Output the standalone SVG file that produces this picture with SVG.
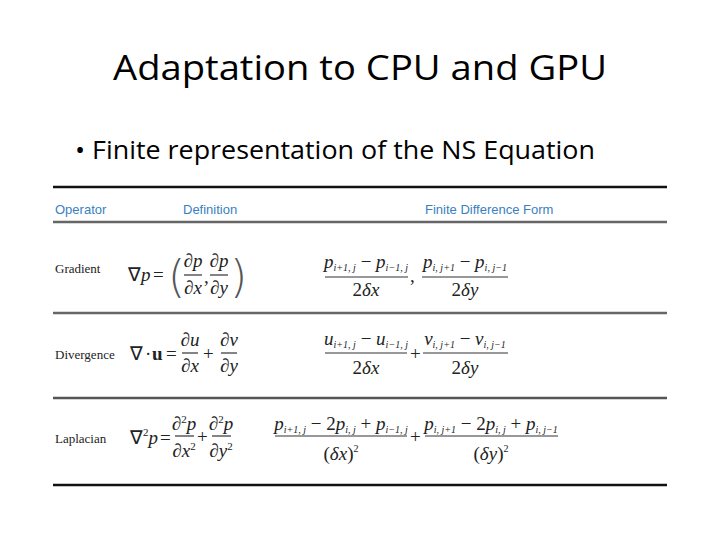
<svg xmlns="http://www.w3.org/2000/svg" width="720" height="540" viewBox="0 0 720 540">
<style>
.t{font-family:"Open Sans","Liberation Sans",sans-serif;fill:#000}
.h{font-family:"Liberation Sans",sans-serif;font-size:13px;fill:#3a80c0}
.lb{font-family:"Liberation Serif",serif;font-size:13px;fill:#222}
.m{font-family:"Liberation Serif",serif;font-size:19px;font-style:italic;fill:#222}
.n{font-family:"Liberation Serif",serif;font-size:19px;fill:#222}
.p{font-family:"DejaVu Sans",sans-serif;font-size:44px;font-weight:100;fill:#555}
.s{font-size:10px;font-style:italic}
.bar{stroke:#333;stroke-width:1.2}
</style>
<rect width="720" height="540" fill="#fff"/>
<g id="title"><text class="t" x="360" y="80" font-size="34" text-anchor="middle" textLength="494" lengthAdjust="spacingAndGlyphs">Adaptation to CPU and GPU</text></g>
<g id="bullet"><text class="t" x="75" y="159" font-size="25" textLength="520" lengthAdjust="spacingAndGlyphs">• Finite representation of the NS Equation</text></g>
<g id="rules">
<line x1="53" y1="187" x2="667" y2="187" stroke="#111" stroke-width="2.5"/>
<line x1="53" y1="222" x2="667" y2="222" stroke="#666" stroke-width="2.5"/>
<line x1="53" y1="313" x2="667" y2="313" stroke="#666" stroke-width="2.5"/>
<line x1="53" y1="398" x2="667" y2="398" stroke="#555" stroke-width="2.5"/>
<line x1="53" y1="485" x2="667" y2="485" stroke="#111" stroke-width="2.5"/>
</g>
<g id="header">
<text class="h" x="55" y="214">Operator</text>
<text class="h" x="183" y="214">Definition</text>
<text class="h" x="425" y="214">Finite Difference Form</text>
</g>
<g id="gradient">
<text class="lb" x="55" y="273">Gradient</text>
<text class="m" x="128" y="281"><tspan font-style="normal">∇</tspan>p</text>
<text class="n" x="153" y="281">=</text>
<text class="p" x="168" y="292">(</text>
<text class="m" x="193" y="267" text-anchor="middle">∂p</text>
<line class="bar" x1="184" y1="275" x2="202" y2="275"/>
<text class="m" x="193" y="294" text-anchor="middle">∂x</text>
<text class="n" x="204" y="283">,</text>
<text class="m" x="219" y="267" text-anchor="middle">∂p</text>
<line class="bar" x1="210" y1="275" x2="228" y2="275"/>
<text class="m" x="219" y="294" text-anchor="middle">∂y</text>
<text class="p" x="230" y="292">)</text>
<text class="m" x="366" y="268" text-anchor="middle">p<tspan class="s" dy="3">i+1, j</tspan><tspan dy="-3" font-style="normal"> − </tspan>p<tspan class="s" dy="3">i−1, j</tspan></text>
<line class="bar" x1="325" y1="277" x2="408" y2="277"/>
<text class="m" x="366" y="296" text-anchor="middle"><tspan font-style="normal">2</tspan>δx</text>
<text class="n" x="410" y="282">,</text>
<text class="m" x="465" y="268" text-anchor="middle">p<tspan class="s" dy="3">i, j+1</tspan><tspan dy="-3" font-style="normal"> − </tspan>p<tspan class="s" dy="3">i, j−1</tspan></text>
<line class="bar" x1="422" y1="277" x2="508" y2="277"/>
<text class="m" x="465" y="296" text-anchor="middle"><tspan font-style="normal">2</tspan>δy</text>
</g>
<g id="divergence">
<text class="lb" x="55" y="359">Divergence</text>
<text class="n" x="130" y="360">∇</text>
<text class="n" x="145" y="360">·</text>
<text class="n" x="152" y="360" font-weight="bold">u</text>
<text class="n" x="166" y="360">=</text>
<text class="m" x="190" y="346" text-anchor="middle">∂u</text>
<line class="bar" x1="182" y1="353" x2="198" y2="353"/>
<text class="m" x="190" y="372" text-anchor="middle">∂x</text>
<text class="n" x="203" y="360">+</text>
<text class="m" x="229" y="346" text-anchor="middle">∂v</text>
<line class="bar" x1="221" y1="353" x2="237" y2="353"/>
<text class="m" x="229" y="372" text-anchor="middle">∂y</text>
<text class="m" x="366" y="345" text-anchor="middle">u<tspan class="s" dy="3">i+1, j</tspan><tspan dy="-3" font-style="normal"> − </tspan>u<tspan class="s" dy="3">i−1, j</tspan></text>
<line class="bar" x1="325" y1="353" x2="407" y2="353"/>
<text class="m" x="366" y="374" text-anchor="middle"><tspan font-style="normal">2</tspan>δx</text>
<text class="n" x="410" y="360">+</text>
<text class="m" x="465" y="345" text-anchor="middle">v<tspan class="s" dy="3">i, j+1</tspan><tspan dy="-3" font-style="normal"> − </tspan>v<tspan class="s" dy="3">i, j−1</tspan></text>
<line class="bar" x1="423" y1="353" x2="508" y2="353"/>
<text class="m" x="465" y="374" text-anchor="middle"><tspan font-style="normal">2</tspan>δy</text>
</g>
<g id="laplacian">
<text class="lb" x="55" y="443">Laplacian</text>
<text class="m" x="130" y="444"><tspan font-style="normal">∇</tspan><tspan font-style="normal" font-size="11" dy="-8">2</tspan><tspan dy="8">p</tspan></text>
<text class="n" x="160" y="444">=</text>
<text class="m" x="184" y="430" text-anchor="middle">∂<tspan font-style="normal" font-size="11" dy="-7">2</tspan><tspan dy="7">p</tspan></text>
<line class="bar" x1="175" y1="436" x2="194" y2="436"/>
<text class="m" x="184" y="457" text-anchor="middle">∂x<tspan font-style="normal" font-size="11" dy="-7">2</tspan></text>
<text class="n" x="197" y="443">+</text>
<text class="m" x="221" y="430" text-anchor="middle">∂<tspan font-style="normal" font-size="11" dy="-7">2</tspan><tspan dy="7">p</tspan></text>
<line class="bar" x1="212" y1="436" x2="231" y2="436"/>
<text class="m" x="221" y="457" text-anchor="middle">∂y<tspan font-style="normal" font-size="11" dy="-7">2</tspan></text>
<text class="m" x="341" y="430" text-anchor="middle">p<tspan class="s" dy="3">i+1, j</tspan><tspan dy="-3" font-style="normal"> − 2</tspan>p<tspan class="s" dy="3">i, j</tspan><tspan dy="-3" font-style="normal"> + </tspan>p<tspan class="s" dy="3">i−1, j</tspan></text>
<line class="bar" x1="275" y1="436" x2="407" y2="436"/>
<text class="m" x="341" y="460" text-anchor="middle"><tspan font-style="normal">(</tspan>δx<tspan font-style="normal">)</tspan><tspan font-style="normal" font-size="10" dy="-8">2</tspan></text>
<text class="n" x="410" y="443">+</text>
<text class="m" x="491" y="430" text-anchor="middle">p<tspan class="s" dy="3">i, j+1</tspan><tspan dy="-3" font-style="normal"> − 2</tspan>p<tspan class="s" dy="3">i, j</tspan><tspan dy="-3" font-style="normal"> + </tspan>p<tspan class="s" dy="3">i, j−1</tspan></text>
<line class="bar" x1="425" y1="436" x2="558" y2="436"/>
<text class="m" x="491" y="460" text-anchor="middle"><tspan font-style="normal">(</tspan>δy<tspan font-style="normal">)</tspan><tspan font-style="normal" font-size="10" dy="-8">2</tspan></text>
</g>
</svg>
